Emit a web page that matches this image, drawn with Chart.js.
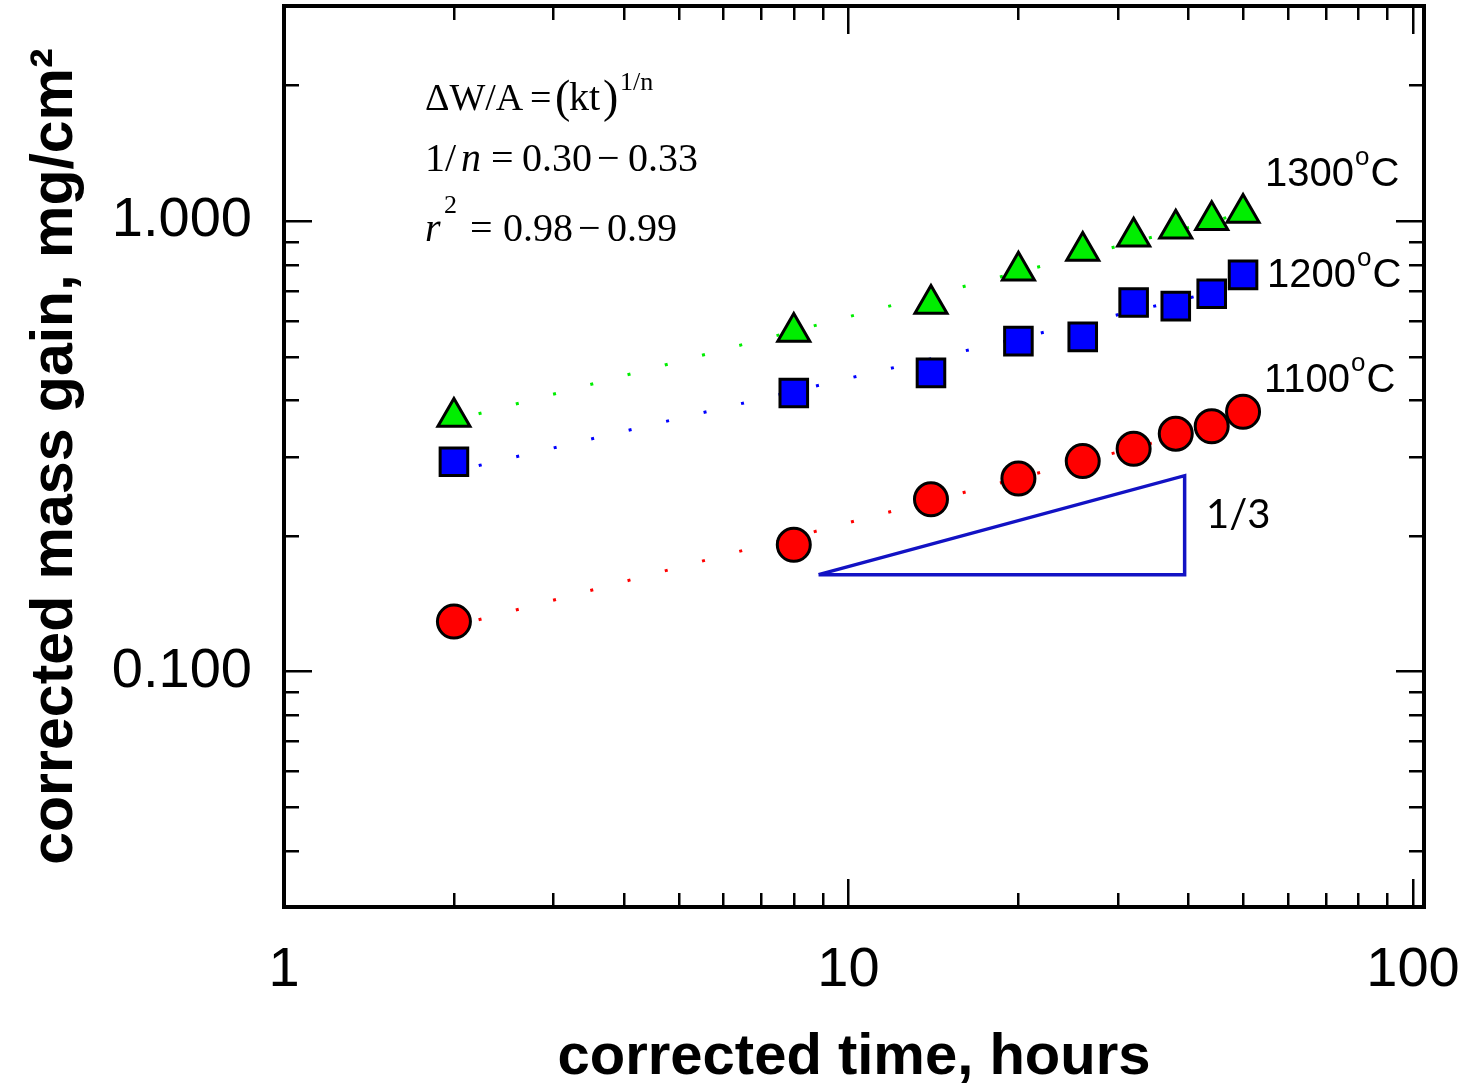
<!DOCTYPE html>
<html><head><meta charset="utf-8">
<script src="https://cdn.jsdelivr.net/npm/chart.js@4.4.1/dist/chart.umd.min.js"></script>
<style>html,body{margin:0;padding:0;background:#fff;} #wrap{width:1468px;height:1090px;position:relative;}</style>
</head><body><div id="wrap"><canvas id="c" width="1468" height="1090"></canvas></div>
<script>
// ---- data ----
const timeHours = [2, 8, 14, 20, 26, 32, 38, 44, 50];
const gain1100 = [0.129, 0.191, 0.241, 0.268, 0.293, 0.312, 0.337, 0.350, 0.377];
const gain1200 = [0.292, 0.415, 0.460, 0.541, 0.553, 0.659, 0.647, 0.689, 0.759];
const gain1300 = [0.367, 0.567, 0.654, 0.775, 0.858, 0.922, 0.961, 1.004, 1.042];
const fitTime = [2, 50];
const fit1100 = [0.126, 0.363];
const fit1200 = [0.278, 0.720];
const fit1300 = [0.361, 1.040];
const slopeX = [8.85, 39.4, 39.4, 8.85];
const slopeY = [0.164, 0.272, 0.164, 0.164];
const xMajorTicks = [1, 10, 100];
const yMajorTicks = [0.1, 1];
const xMinorTicks = [2, 3, 4, 5, 6, 7, 8, 9, 20, 30, 40, 50, 60, 70, 80, 90];
const yMinorTicks = [0.04, 0.05, 0.06, 0.07, 0.08, 0.09, 0.2, 0.3, 0.4, 0.5, 0.6, 0.7, 0.8, 0.9, 2];
const seriesLabels = ['1100', '1200', '1300'];

const SANS = '"Liberation Sans", Arial, sans-serif';
const SERIF = '"Liberation Serif", "Times New Roman", serif';
const PLOT_TOP = 6;

const pts = (xs, ys) => xs.map((x, i) => ({x, y: ys[i]}));

const fitStyle = (c) => ({
  showLine: true, pointRadius: 0, borderColor: c, borderWidth: 3,
  borderDash: [3, 35.5], borderDashOffset: 13, order: 2, borderCapStyle: 'butt'
});
const markStyle = (c, ps, r) => ({
  showLine: false, pointStyle: ps, pointRadius: r, pointHoverRadius: r,
  backgroundColor: c, borderColor: '#000', pointBorderWidth: 3, borderWidth: 3, order: 0
});
const noPad = s => { s.paddingTop = 0; s.paddingBottom = 0; s.paddingLeft = 0; s.paddingRight = 0; };

const decor = {
  id: 'decor',
  afterLayout(chart) {
    const a = chart.chartArea, ys = chart.scales.y;
    a.top = PLOT_TOP; a.height = a.bottom - a.top;
    ys.top = PLOT_TOP; ys.height = ys.bottom - ys.top;
    ys.configure();
  },
  afterDraw(chart) {
    const ctx = chart.ctx, a = chart.chartArea;
    const xs = chart.scales.x, ys = chart.scales.y;
    ctx.save();
    ctx.strokeStyle = '#000';
    ctx.lineWidth = 2.5;
    const tick = (v, len, isX) => {
      ctx.beginPath();
      if (isX) {
        const p = Math.round(xs.getPixelForValue(v)) + 0.25;
        ctx.moveTo(p, a.bottom); ctx.lineTo(p, a.bottom - len);
        ctx.moveTo(p, a.top); ctx.lineTo(p, a.top + len);
      } else {
        const p = Math.round(ys.getPixelForValue(v)) + 0.25;
        ctx.moveTo(a.left, p); ctx.lineTo(a.left + len, p);
        ctx.moveTo(a.right, p); ctx.lineTo(a.right - len, p);
      }
      ctx.stroke();
    };
    xMinorTicks.forEach(v => tick(v, 14, true));
    xMajorTicks.forEach(v => tick(v, 28, true));
    yMinorTicks.forEach(v => tick(v, 15, false));
    yMajorTicks.forEach(v => tick(v, 28, false));
    ctx.lineWidth = 4;
    ctx.strokeRect(a.left, a.top, a.right - a.left, a.bottom - a.top);

    // text annotations
    ctx.fillStyle = '#000';
    ctx.textBaseline = 'alphabetic';
    ctx.textAlign = 'left';
    const put = (t, font, x, y) => { ctx.font = font; ctx.fillText(t, x, y); return x + ctx.measureText(t).width; };
    // equation block
    const f40 = '40px ' + SERIF, fi40 = 'italic 40px ' + SERIF, f26 = '26px ' + SERIF;
    const f38 = '38px ' + SERIF;
    put('\u0394W/A', f38, 425, 110);
    put('=', f38, 530, 110);
    put('(', '46px ' + SERIF, 555, 112);
    put('kt', f40, 569, 110);
    put(')', '46px ' + SERIF, 603, 112);
    put('1/n', f26, 620, 90);
    put('1', f40, 425, 171);
    put('/', f40, 445, 171);
    put('n', fi40, 461, 171);
    put('=', f40, 491, 171);
    put('0.30', f40, 522, 171);
    put('\u2212', f40, 597, 171);
    put('0.33', f40, 628, 171);
    put('r', fi40, 425, 241);
    put('2', f26, 444, 213);
    put('=', f40, 470, 241);
    put('0.98', f40, 503, 241);
    put('\u2212', f40, 578, 241);
    put('0.99', f40, 607, 241);
    // temperature labels
    const temp = (lab, x, y) => {
      let nx = put(lab, '40px ' + SANS, x, y);
      nx = put('o', '26px ' + SANS, nx + 1, y - 21);
      put('C', '40px ' + SANS, nx + 1, y);
    };
    temp(seriesLabels[2], 1265, 186);
    temp(seriesLabels[1], 1267, 287);
    temp(seriesLabels[0], 1264, 392);
    put('1/3', '40px Lato, "Open Sans", sans-serif', 1206, 528);
    ctx.restore();
  }
};

new Chart(document.getElementById('c'), {
  type: 'scatter',
  data: {
    datasets: [
      Object.assign({label: 'fit 1100', data: pts(fitTime, fit1100)}, fitStyle('#ff0000')),
      Object.assign({label: 'fit 1200', data: pts(fitTime, fit1200)}, fitStyle('#0000ff')),
      Object.assign({label: 'fit 1300', data: pts(fitTime, fit1300)}, fitStyle('#00ee00')),
      {label: 'slope 1/3', data: pts(slopeX, slopeY), showLine: true, pointRadius: 0,
       borderColor: '#1212c4', borderWidth: 3.5, order: 1},
      Object.assign({label: '1100\u00b0C', data: pts(timeHours, gain1100)}, markStyle('#ff0000', 'circle', 16.5)),
      Object.assign({label: '1200\u00b0C', data: pts(timeHours, gain1200)}, markStyle('#0000ff', 'rect', 19.5)),
      Object.assign({label: '1300\u00b0C', data: pts(timeHours, gain1300)}, markStyle('#00ee00', 'triangle', 18.5))
    ]
  },
  options: {
    responsive: false,
    animation: false,
    devicePixelRatio: 1,
    layout: {padding: {top: 6, right: 44, bottom: 0, left: 0}},
    plugins: {legend: {display: false}, tooltip: {enabled: false}},
    scales: {
      x: {
        type: 'logarithmic', position: 'bottom', min: 1, max: 104.6,
        afterBuildTicks: s => { s.ticks = xMajorTicks.map(v => ({value: v})); },
        afterFit: s => { s.height = 183; noPad(s); },
        grid: {display: false, drawTicks: false}, border: {display: false},
        ticks: {callback: v => String(v), font: {family: SANS, size: 56}, color: '#000',
                padding: 30, maxRotation: 0, autoSkip: false},
        title: {display: true, text: 'corrected time, hours', color: '#000',
                font: {family: SANS, size: 58, weight: 'bold', lineHeight: 1.1}, padding: {top: 0, bottom: 0}}
      },
      y: {
        type: 'logarithmic', position: 'left', min: 0.03, max: 3,
        afterBuildTicks: s => { s.ticks = yMajorTicks.map(v => ({value: v})); },
        afterFit: s => { s.width = 284; noPad(s); },
        grid: {display: false, drawTicks: false}, border: {display: false},
        ticks: {callback: v => Number(v).toFixed(3), font: {family: SANS, size: 56}, color: '#000',
                padding: 32, autoSkip: false},
        title: {display: true, text: 'corrected mass gain, mg/cm\u00b2', color: '#000',
                font: {family: SANS, size: 59, weight: 'bold', lineHeight: 1.2}, padding: {top: 20, bottom: 0}}
      }
    }
  },
  plugins: [decor]
});
</script>
</body></html>
